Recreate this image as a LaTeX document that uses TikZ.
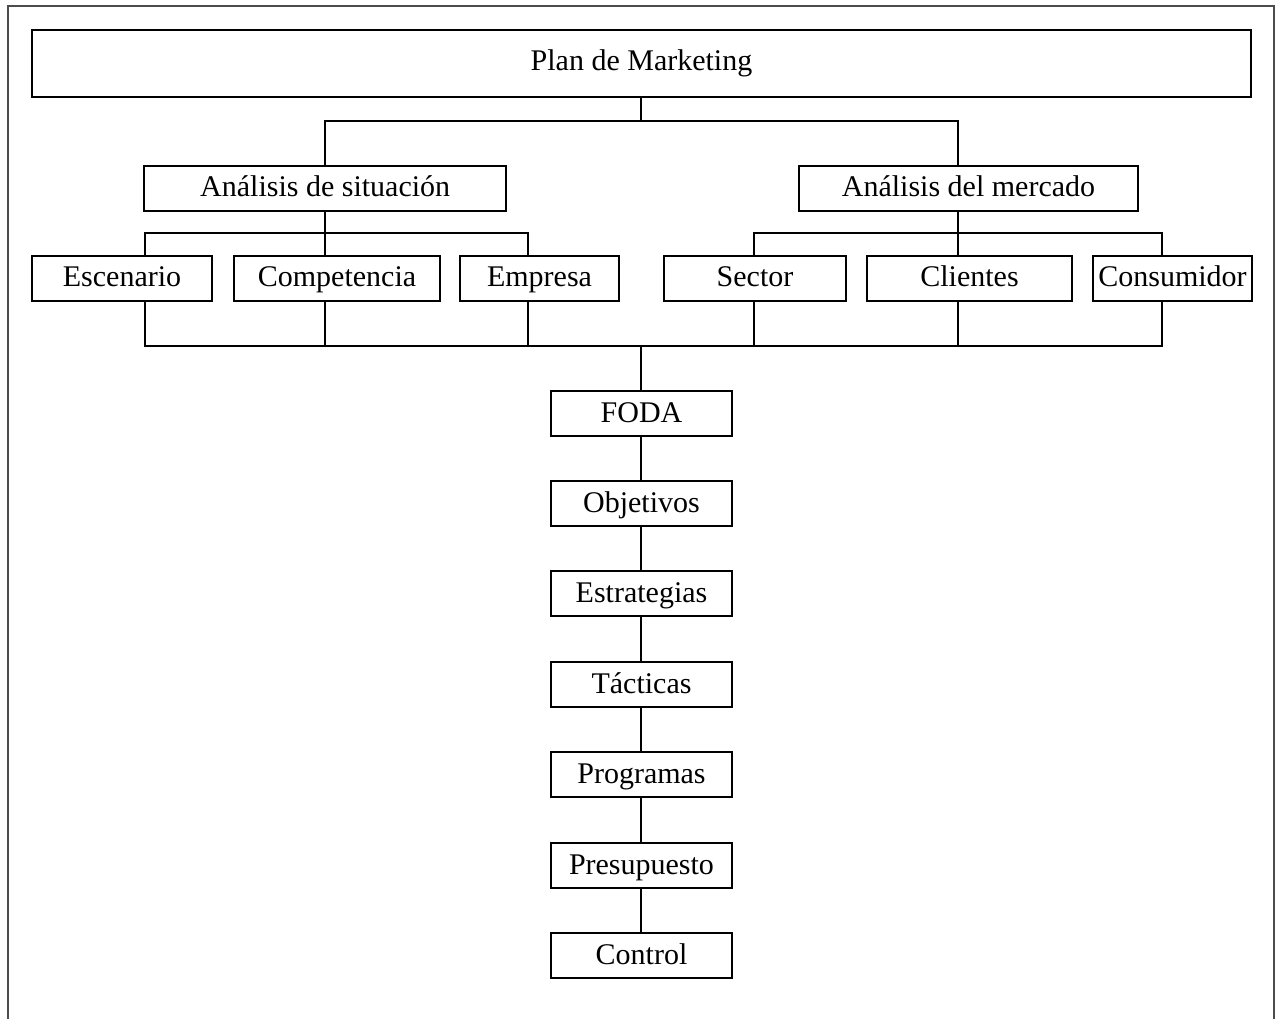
\documentclass[tikz,border=0pt]{standalone}
\usepackage{fontspec}
\setmainfont{Liberation Serif}
\begin{document}
\begin{tikzpicture}[x=1pt,y=1pt,
  box/.style={draw=black, line width=1.9pt, inner sep=0pt, minimum height=45pt,
              text height=23pt, text depth=6pt,
              font=\fontsize{30}{35}\selectfont},
  link/.style={draw=black, line width=1.9pt},
  chainbox/.style={box, minimum width=181pt}]
\useasboundingbox (0,0) rectangle (1278,-1019);
\fill[white] (0,0) rectangle (1278,-1019);
% outer frame, open at the bottom
\draw[line width=2pt, color=black!70] (8,-1019) -- (8,-6) -- (1274,-6) -- (1274,-1019);

% top level
\node[box, minimum width=1219pt, minimum height=67pt, text height=20pt] (plan) at (641.5,-63.5) {Plan de Marketing};

% second level
\node[box, minimum width=362pt] (ads) at (325.2,-188.5) {Análisis de situación};
\node[box, minimum width=339pt] (adm) at (968.5,-188.5) {Análisis del mercado};

% third level
\node[box, minimum width=180pt] (esc) at (122,-278.5) {Escenario};
\node[box, minimum width=206pt] (comp) at (337,-278.5) {Competencia};
\node[box, minimum width=159pt] (emp) at (539.5,-278.5) {Empresa};
\node[box, minimum width=182pt] (sec) at (755,-278.5) {Sector};
\node[box, minimum width=205pt] (cli) at (969.5,-278.5) {Clientes};
\node[box, minimum width=159pt] (con) at (1172.5,-278.5) {Consumidor};

% central chain
\node[chainbox] (foda) at (641.5,-413.5) {FODA};
\node[chainbox] (obj)  at (641.5,-503.5) {Objetivos};
\node[chainbox] (est)  at (641.5,-593.5) {Estrategias};
\node[chainbox] (tac)  at (641.5,-684.5) {Tácticas};
\node[chainbox] (prog) at (641.5,-774.5) {Programas};
\node[chainbox] (pres) at (641.5,-865.5) {Presupuesto};
\node[chainbox] (ctrl) at (641.5,-955.5) {Control};

% bus lines
\coordinate (bus1) at (641,-121);
\coordinate (bus2) at (325,-233);
\coordinate (bus3) at (958,-233);
\coordinate (bus4) at (641,-346);

% plan -> second level
\draw[link] ([xshift=-0.5pt]plan.south) -- (bus1);
\draw[link] ([xshift=-0.2pt]ads.north) |- (bus1) -| ([xshift=-10.5pt]adm.north);

% situation analysis -> its parts
\draw[link] ([xshift=-0.2pt]ads.south) -- (bus2);
\draw[link] ([xshift=23pt]esc.north) |- (bus2) -| ([xshift=-11.5pt]emp.north);
\draw[link] ([xshift=-12pt]comp.north) -- ([xshift=-12pt]comp.north |- bus2);

% market analysis -> its parts
\draw[link] ([xshift=-10.5pt]adm.south) -- (bus3);
\draw[link] ([xshift=-1pt]sec.north) |- (bus3) -| ([xshift=-10.5pt]con.north);
\draw[link] ([xshift=-11.5pt]cli.north) -- ([xshift=-11.5pt]cli.north |- bus3);

% all parts -> FODA
\draw[link] ([xshift=23pt]esc.south) |- (bus4) -| ([xshift=-10.5pt]con.south);
\draw[link] ([xshift=-12pt]comp.south) -- ([xshift=-12pt]comp.south |- bus4);
\draw[link] ([xshift=-11.5pt]emp.south) -- ([xshift=-11.5pt]emp.south |- bus4);
\draw[link] ([xshift=-1pt]sec.south) -- ([xshift=-1pt]sec.south |- bus4);
\draw[link] ([xshift=-11.5pt]cli.south) -- ([xshift=-11.5pt]cli.south |- bus4);
\draw[link] (bus4) -- ([xshift=-0.5pt]foda.north);

% chain links
\draw[link] ([xshift=-0.5pt]foda.south) -- ([xshift=-0.5pt]obj.north);
\draw[link] ([xshift=-0.5pt]obj.south) -- ([xshift=-0.5pt]est.north);
\draw[link] ([xshift=-0.5pt]est.south) -- ([xshift=-0.5pt]tac.north);
\draw[link] ([xshift=-0.5pt]tac.south) -- ([xshift=-0.5pt]prog.north);
\draw[link] ([xshift=-0.5pt]prog.south) -- ([xshift=-0.5pt]pres.north);
\draw[link] ([xshift=-0.5pt]pres.south) -- ([xshift=-0.5pt]ctrl.north);
\end{tikzpicture}
\end{document}
